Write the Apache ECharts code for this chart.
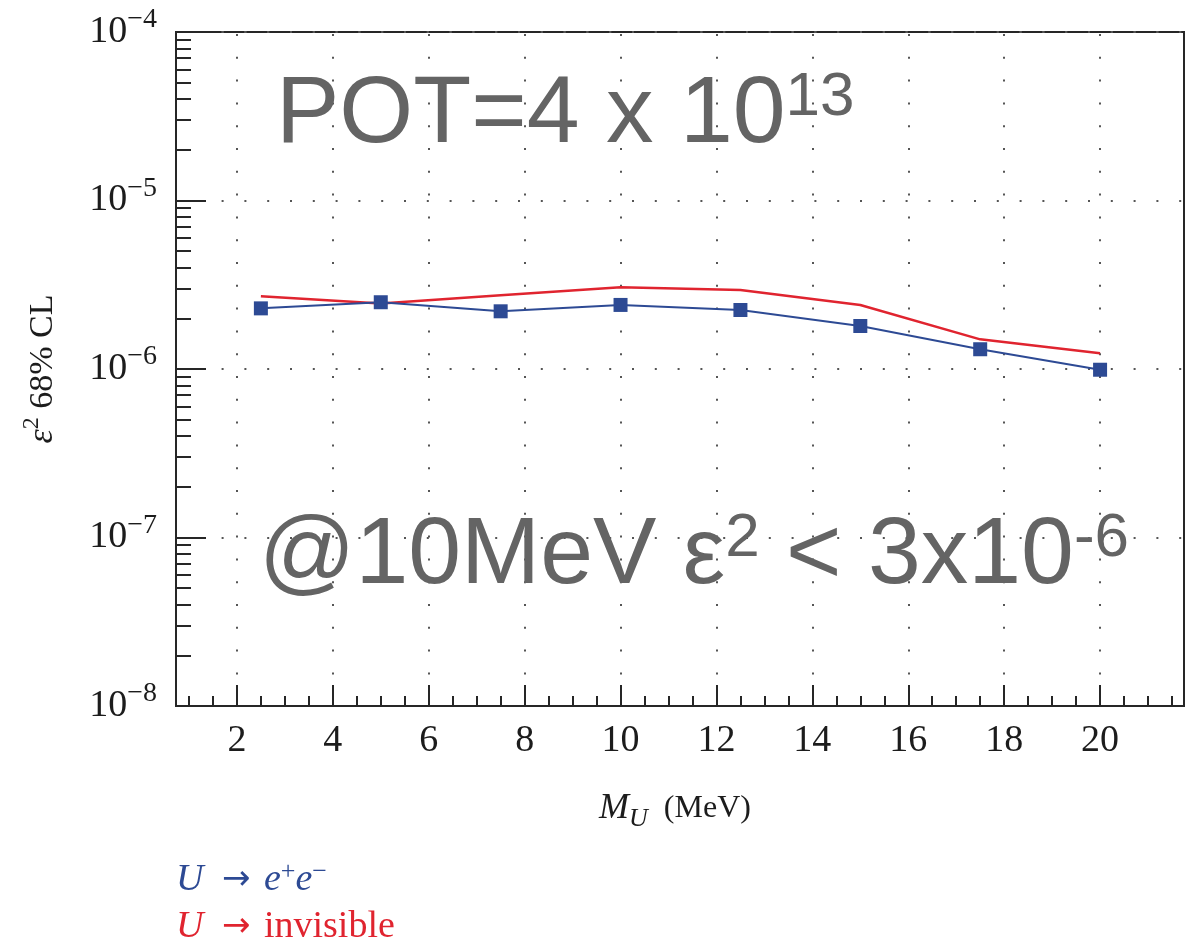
<!DOCTYPE html>
<html>
<head>
<meta charset="utf-8">
<title>U boson sensitivity</title>
<script src="https://cdn.jsdelivr.net/npm/echarts@6/dist/echarts.min.js"></script>
<style>
  html, body { margin: 0; padding: 0; background: #ffffff; }
  #chart { width: 1201px; height: 948px; }
</style>
</head>
<body>
<div id="chart"></div>
<script>
// U boson mass points (MeV)
const massMeV = [2.5, 5, 7.5, 10, 12.5, 15, 17.5, 20];
// Expected ε² upper limits at 68% CL
const limitEE = [2.29e-6, 2.49e-6, 2.20e-6, 2.40e-6, 2.24e-6, 1.80e-6, 1.31e-6, 0.99e-6];
const limitInvisible = [2.70e-6, 2.45e-6, 2.74e-6, 3.06e-6, 2.94e-6, 2.40e-6, 1.50e-6, 1.24e-6];

// Series names and their key labels (rich text)
const seriesNames = ['U → e+e−', 'U → invisible'];
const keyLabels = ['{it|U} {arr|→} {it|e}{sup|+}{it|e}{sup|−}', '{it|U} {arr|→} invisible'];
const seriesColors = ['#2d4a94', '#e0242f'];

// Axis ticks
const xRange = [0.73, 21.75];
const xMajorTicks = [2, 4, 6, 8, 10, 12, 14, 16, 18, 20];
const xMinorTicks = [];
for (let v = 1; v <= 21.5; v += 0.5) {
  if (xMajorTicks.indexOf(v) < 0) xMinorTicks.push(v);
}
const yDecades = [-8, -7, -6, -5, -4];
const yMinorTicks = [];
for (let i = 0; i < yDecades.length - 1; i++) {
  for (let k = 2; k <= 9; k++) yMinorTicks.push(yDecades[i] + Math.log10(k));
}

// Annotation texts
const potText = 'POT=4 x 10{sup|13}';
const limitText = '@10MeV ε{sup|2} < 3x10{sup|-6}';

const SERIF = "'Liberation Serif', 'Times New Roman', serif";
const SANS = "'Liberation Sans', Arial, sans-serif";
const INK = '#1c1c1c';
const FRAME = '#262626';
const dotted = { color: '#555555', width: 2, type: [2, 20.8] };

const chart = echarts.init(document.getElementById('chart'), null, { renderer: 'canvas' });

// Colored key text under the plot, one line per series
function keyText(i, y) {
  return {
    type: 'text', x: 176, y: y, z: 10,
    style: {
      text: keyLabels[i], fill: seriesColors[i], font: '38px ' + SERIF,
      align: 'left', verticalAlign: 'middle',
      rich: {
        it: { fill: seriesColors[i], font: 'italic 38px ' + SERIF },
        arr: { fill: seriesColors[i], font: "34px 'DejaVu Sans', sans-serif", padding: [0, 4, 0, 9] },
        sup: { fill: seriesColors[i], font: '26px ' + SERIF, padding: [0, 0, 16, 0] }
      }
    }
  };
}

const option = {
  animation: false,
  backgroundColor: '#ffffff',
  grid: {
    left: 176, top: 32, width: 1008, height: 674,
    show: true, borderColor: FRAME, borderWidth: 2, backgroundColor: 'transparent'
  },
  xAxis: [
    {
      type: 'value', min: xRange[0], max: xRange[1], position: 'bottom',
      axisLine: { show: true, onZero: false, lineStyle: { color: FRAME, width: 2 } },
      axisTick: { show: true, inside: true, length: 21, customValues: xMajorTicks,
                  lineStyle: { color: FRAME, width: 2 } },
      axisLabel: { customValues: xMajorTicks, margin: 16, fontFamily: SERIF, fontSize: 38, color: INK },
      splitLine: { show: true, lineStyle: Object.assign({ dashOffset: -2 }, dotted) },
      name: '{it|M}{sub|U}  (MeV)',
      nameLocation: 'middle', nameGap: 80,
      nameTextStyle: {
        fontFamily: SERIF, fontSize: 32, color: INK, padding: [0, 10, 0, 0],
        rich: {
          it: { fontFamily: SERIF, fontSize: 36, fontStyle: 'italic', color: INK },
          sub: { fontFamily: SERIF, fontSize: 26, fontStyle: 'italic', color: INK, padding: [20, 0, 0, 0] }
        }
      }
    },
    {
      type: 'value', min: xRange[0], max: xRange[1], position: 'bottom',
      axisLine: { show: false, onZero: false },
      axisTick: { show: true, inside: true, length: 10, customValues: xMinorTicks,
                  lineStyle: { color: FRAME, width: 2 } },
      axisLabel: { show: false },
      splitLine: { show: false }
    }
  ],
  yAxis: [
    {
      type: 'log', logBase: 10, position: 'left',
      min: Math.pow(10, yDecades[0]), max: Math.pow(10, yDecades[yDecades.length - 1]),
      axisLine: { show: true, onZero: false, lineStyle: { color: FRAME, width: 2 } },
      axisTick: { show: true, inside: true, length: 30, lineStyle: { color: FRAME, width: 2 } },
      axisLabel: {
        margin: 19,
        formatter: function (value) {
          const p = Math.round(Math.log10(value));
          return '10{sup|' + (p < 0 ? '−' + (-p) : p) + '}';
        },
        fontFamily: SERIF, fontSize: 38, color: INK,
        rich: { sup: { fontFamily: SERIF, fontSize: 28, color: INK, padding: [0, 0, 24, 0] } }
      },
      splitLine: { show: true, lineStyle: dotted },
      name: '{it|ε}{sup|2} 68% CL',
      nameLocation: 'middle', nameGap: 110,
      nameTextStyle: {
        fontFamily: SERIF, fontSize: 34, color: INK,
        rich: {
          it: { fontFamily: SERIF, fontSize: 36, fontStyle: 'italic', color: INK },
          sup: { fontFamily: SERIF, fontSize: 24, color: INK, padding: [0, 0, 22, 0] }
        }
      }
    },
    {
      type: 'value', position: 'left', offset: 0,
      min: yDecades[0], max: yDecades[yDecades.length - 1],
      axisLine: { show: false, onZero: false },
      axisTick: { show: true, inside: true, length: 15, customValues: yMinorTicks,
                  lineStyle: { color: FRAME, width: 2 } },
      axisLabel: { show: false },
      splitLine: { show: false }
    }
  ],
  series: [
    {
      name: seriesNames[1], type: 'line',
      data: massMeV.map((m, i) => [m, limitInvisible[i]]),
      xAxisIndex: 0, yAxisIndex: 0,
      showSymbol: false, symbol: 'none',
      lineStyle: { color: seriesColors[1], width: 2.5 },
      itemStyle: { color: seriesColors[1] },
      z: 3
    },
    {
      name: seriesNames[0], type: 'line',
      data: massMeV.map((m, i) => [m, limitEE[i]]),
      xAxisIndex: 0, yAxisIndex: 0,
      symbol: 'rect', symbolSize: 14,
      lineStyle: { color: seriesColors[0], width: 2 },
      itemStyle: { color: seriesColors[0] },
      z: 4
    }
  ],
  graphic: [
    {
      type: 'text', x: 276, y: 116, z: 10,
      style: {
        text: potText, fill: '#646464', font: '95px ' + SANS,
        align: 'left', verticalAlign: 'middle',
        rich: { sup: { fill: '#646464', font: '62px ' + SANS, padding: [0, 0, 36, 0] } }
      }
    },
    {
      type: 'text', x: 259, y: 557, z: 10,
      style: {
        text: limitText, fill: '#646464', font: '95px ' + SANS,
        align: 'left', verticalAlign: 'middle',
        rich: { sup: { fill: '#646464', font: '62px ' + SANS, padding: [0, 0, 36, 0] } }
      }
    },
    keyText(0, 880),
    keyText(1, 927)
  ]
};

chart.setOption(option);
</script>
</body>
</html>
